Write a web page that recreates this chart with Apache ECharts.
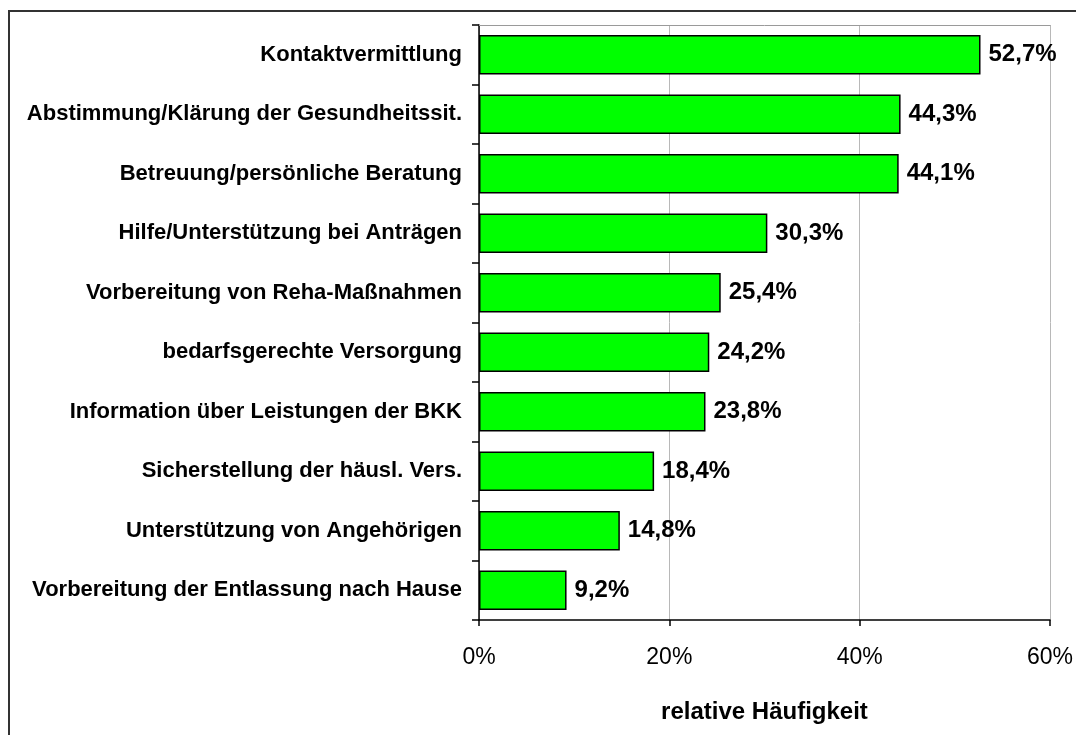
<!DOCTYPE html>
<html>
<head>
<meta charset="utf-8">
<script src="https://cdn.jsdelivr.net/npm/echarts@6/dist/echarts.min.js"></script>
<style>
  html, body { margin: 0; padding: 0; background: #fff; overflow: hidden; }
  #chart { width: 1076px; height: 735px; }
</style>
</head>
<body>
<div id="chart"></div>
<script>
const categories = [
  'Kontaktvermittlung',
  'Abstimmung/Klärung der Gesundheitssit.',
  'Betreuung/persönliche Beratung',
  'Hilfe/Unterstützung bei Anträgen',
  'Vorbereitung von Reha-Maßnahmen',
  'bedarfsgerechte Versorgung',
  'Information über Leistungen der BKK',
  'Sicherstellung der häusl. Vers.',
  'Unterstützung von Angehörigen',
  'Vorbereitung der Entlassung nach Hause'
]
const values = [52.7, 44.3, 44.1, 30.3, 25.4, 24.2, 23.8, 18.4, 14.8, 9.2]
const xTicks = [0, 20, 40, 60]

const font = 'Arial, "Liberation Sans", sans-serif'
const chart = echarts.init(document.getElementById('chart'), null, { renderer: 'canvas' })

chart.setOption({
  animation: false,
  grid: { left: 479, top: 25, width: 576, height: 595, containLabel: false },
  graphic: [
    {
      type: 'rect',
      shape: { x: 9, y: 11, width: 1200, height: 900 },
      style: { fill: 'none', stroke: '#333', lineWidth: 2 },
      silent: true
    }
  ],
  xAxis: [
    {
      type: 'value',
      min: xTicks[0],
      max: xTicks[xTicks.length - 1],
      interval: 20,
      name: 'relative Häufigkeit',
      nameLocation: 'middle',
      nameGap: 80,
      nameTextStyle: { fontFamily: font, fontSize: 24, fontWeight: 'bold', color: '#000' },
      axisLine: { show: true, lineStyle: { color: '#000', width: 1.5 } },
      axisTick: { show: true, length: 6, lineStyle: { color: '#000', width: 1.5 } },
      axisLabel: {
        margin: 26,
        fontFamily: font,
        fontSize: 23,
        color: '#000',
        formatter: v => v + '%'
      },
      splitLine: { show: true, lineStyle: { color: '#b8b8b8', width: 1 } }
    },
    {
      type: 'value',
      position: 'top',
      min: 0,
      max: 60,
      axisLine: { show: true, lineStyle: { color: '#9a9a9a', width: 1 } },
      axisTick: { show: false },
      axisLabel: { show: false },
      splitLine: { show: false }
    }
  ],
  yAxis: {
    type: 'category',
    data: categories,
    inverse: true,
    axisLine: { show: true, lineStyle: { color: '#000', width: 1.5 } },
    axisTick: { show: true, length: 7, lineStyle: { color: '#000', width: 1.5 } },
    axisLabel: {
      margin: 17,
      fontFamily: font,
      fontSize: 22,
      fontWeight: 'bold',
      color: '#000'
    }
  },
  series: [
    {
      type: 'bar',
      data: values,
      barCategoryGap: '34%',
      itemStyle: { color: '#00ff00', borderColor: '#000', borderWidth: 1.5 },
      label: {
        show: true,
        position: 'right',
        distance: 8,
        fontFamily: font,
        fontSize: 24,
        fontWeight: 'bold',
        color: '#000',
        formatter: p => p.value.toFixed(1).replace('.', ',') + '%'
      }
    }
  ]
})
</script>
</body>
</html>
